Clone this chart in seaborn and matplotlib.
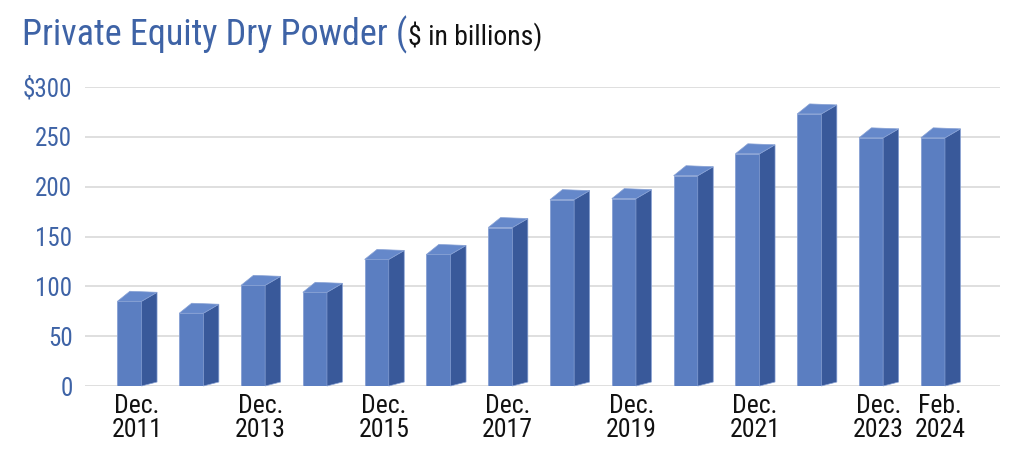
import matplotlib
matplotlib.use("Agg")
import matplotlib.pyplot as plt
from matplotlib import font_manager as fm
from matplotlib.patches import Polygon
import seaborn as sns
import pandas as pd
import numpy as np

# ---- data ----
periods = ["Dec 2011", "Dec 2012", "Dec 2013", "Dec 2014", "Dec 2015", "Dec 2016", "Dec 2017",
           "Dec 2018", "Dec 2019", "Dec 2020", "Dec 2021", "Dec 2022", "Dec 2023", "Feb 2024"]
dry_powder = [85, 73, 101, 94, 127, 132, 159, 187, 188, 211, 233, 273, 249, 249]
tick_labels = ["Dec.\n2011", "", "Dec.\n2013", "", "Dec.\n2015", "", "Dec.\n2017",
               "", "Dec.\n2019", "", "Dec.\n2021", "", "Dec.\n2023", "Feb.\n2024"]
y_ticks = [0, 50, 100, 150, 200, 250, 300]
y_tick_labels = ["0", "50", "100", "150", "200", "250", "\\$300"]
title_main = "Private Equity Dry Powder ("
title_sub = "\\$ in billions)"


def pick(fams):
    for f in fams:
        try:
            fm.findfont(f, fallback_to_default=False)
            return f
        except Exception:
            pass
    return "DejaVu Sans"


sns.set_theme(style="white")
FONT = pick(["Roboto Condensed", "Liberation Sans Narrow", "Arial Narrow", "Liberation Sans"])
plt.rcParams["font.family"] = [FONT, "DejaVu Sans"]

BLUE_TXT = "#3E63A6"
FRONT = "#5B7EC1"
SIDE = "#39599A"
TOP = "#6588CA"
EDGE = "#86A0D4"

df = pd.DataFrame({"period": periods, "value": dry_powder})

fig = plt.figure(figsize=(10.22, 4.55), dpi=100)
ax = fig.add_axes([85 / 1022, (455 - 386) / 455, 915 / 1022, 299 / 455])

sns.barplot(data=df, x="period", y="value", order=periods, color=FRONT, width=0.39,
            saturation=1, ax=ax, edgecolor=EDGE, linewidth=0.6, zorder=3)

ax.set_ylim(0, 300)
ax.set_xlim(-0.72, 14.086)

# 3D faces built from the bar patches (pixel offsets converted through the axes transform)
DX, DY_TOP, DY_BOT = 15.5, 9.0, 4.0
inv = ax.transData.inverted()
for p in list(ax.patches):
    x0, x1 = p.get_x(), p.get_x() + p.get_width()
    h = p.get_height()
    (px0, pt), (px1, pb) = ax.transData.transform([(x0, h), (x1, 0)])
    side = inv.transform([(px1, pt), (px1 + DX, pt + DY_TOP), (px1 + DX, pb + DY_BOT), (px1, pb)])
    top = inv.transform([(px0, pt), (px1, pt), (px1 + DX, pt + DY_TOP), (px0 + DX * 0.8, pt + DY_TOP + 1)])
    ax.add_patch(Polygon(side, closed=True, facecolor=SIDE, edgecolor=EDGE, lw=0.5,
                         zorder=3, clip_on=False))
    ax.add_patch(Polygon(top, closed=True, facecolor=TOP, edgecolor=EDGE, lw=0.5,
                         zorder=3, clip_on=False))

ax.set_yticks(y_ticks)
ax.set_yticklabels(y_tick_labels, color=BLUE_TXT, fontsize=18)
ax.set_xticks(np.arange(len(periods)) + 0.12)
ax.set_xticklabels(tick_labels, color="#111111", fontsize=18.5, linespacing=1.0)
ax.tick_params(axis="y", length=0, pad=9)
ax.tick_params(axis="x", length=0, pad=6)
ax.set_xlabel("")
ax.set_ylabel("")
for s in ax.spines.values():
    s.set_visible(False)
ax.set_axisbelow(True)
ax.yaxis.grid(True, color="#DCDCDC", lw=1.3)
ax.xaxis.grid(False)

t1 = fig.text(22 / 1022, 1 - 45 / 455, title_main, color=BLUE_TXT, fontsize=26,
              ha="left", va="baseline")
fig.canvas.draw()
bb = t1.get_window_extent()
fig.text(bb.x1 / fig.bbox.width + 1 / 1022, 1 - 45 / 455, title_sub, color="#111111",
         fontsize=20, ha="left", va="baseline")

fig.savefig("out.png", dpi=100)
